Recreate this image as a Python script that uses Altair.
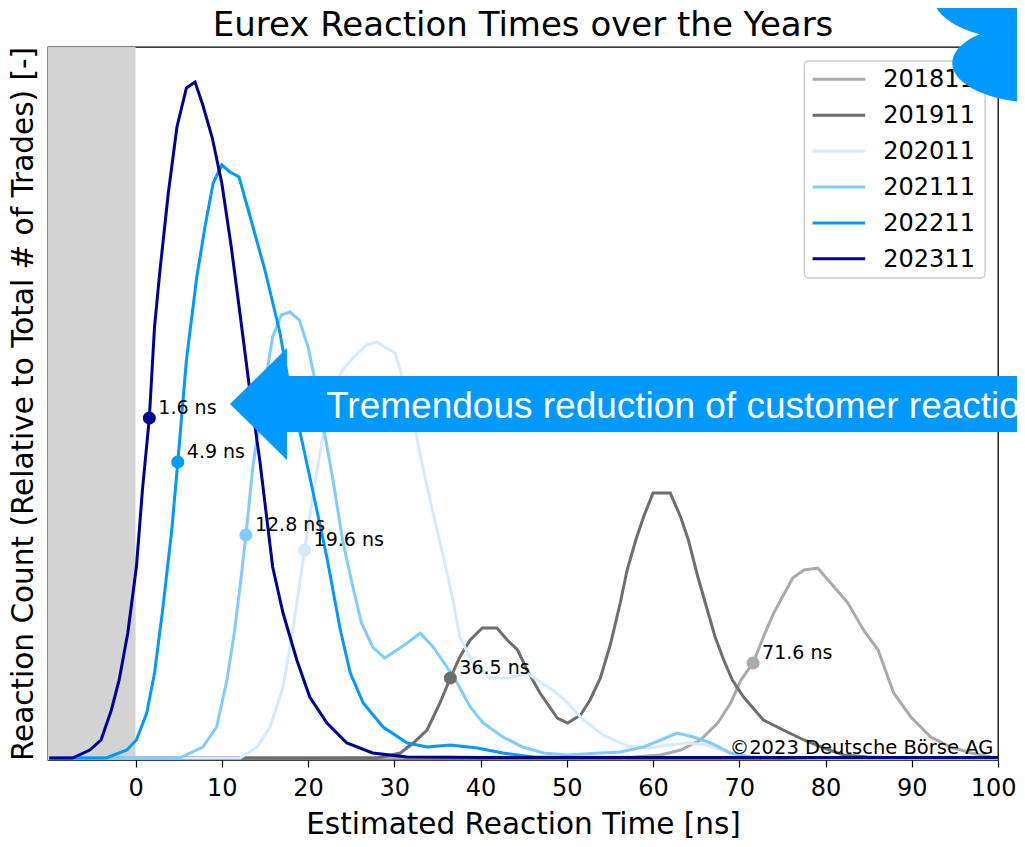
import altair as alt
import pandas as pd

# ---------------- data ----------------
years = ["201811", "201911", "202011", "202111", "202211", "202311"]
colors = ["#aaaaaa", "#6e6e6e", "#d6eaff", "#80ccff", "#0099ff", "#000099"]

x_201811 = [-10, 57.7, 60.9, 63.2, 65.5, 67.5, 69.0, 70.2, 71.6, 72.8, 74.0, 75.0, 76.2, 77.5,
            79.1, 81.0, 82.6, 84.4, 86.1, 87.9, 89.9, 92.2, 94.5, 96.9, 99.2, 100]
y_201811 = [0, 1, 3, 8, 18, 35, 55, 78, 95, 121, 145, 161, 180, 188,
            190, 171, 155, 128, 108, 65, 41, 21, 11, 5, 1, 0]

x_201911 = [-10, 28.0, 30.7, 32.2, 33.8, 35.3, 36.5, 37.6, 38.8, 40.2, 41.9, 43.1, 44.3, 45.4,
            46.9, 48.9, 50.1, 51.6, 52.7, 53.9, 55.1, 56.2, 57.0, 58.0, 58.9, 60.0, 61.1, 62.0,
            63.2, 64.1, 65.2, 66.3, 67.2, 68.2, 69.2, 70.5, 72.8, 75.1, 77.5, 79.8, 82.1, 84.9,
            90, 100]
y_201911 = [0, 0, 5, 15, 28, 55, 80, 101, 118, 130, 130, 118, 108, 88,
            65, 40, 35, 43, 58, 80, 115, 155, 188, 218, 241, 265, 265, 265,
            241, 218, 181, 148, 121, 98, 78, 61, 38, 28, 18, 10, 3, 1,
            0, 0]

x_202011 = [-10, 12.1, 14.1, 15.6, 17.1, 18.2, 19.6, 20.6, 21.7, 22.9, 24.0, 25.2, 26.8, 28.0,
            28.9, 30.1, 31.0, 32.2, 33.3, 34.5, 35.7, 36.8, 37.6, 39.1, 41.1, 43.4, 45.4, 46.9,
            48.4, 50.1, 51.9, 54.2, 57.0, 59.7, 61.7, 64.0, 66.3, 69.0, 71.3, 80, 90, 100]
y_202011 = [0, 0, 11, 31, 71, 125, 208, 265, 321, 368, 388, 400, 413, 416,
            411, 405, 378, 338, 291, 245, 201, 158, 121, 95, 80, 80, 85, 76,
            68, 55, 38, 23, 12, 10, 13, 15, 13, 5, 1, 0, 0, 0]

x_202111 = [-10, 5.1, 7.8, 9.4, 10.6, 11.5, 12.3, 12.8, 13.6, 14.6, 15.4, 15.9, 16.9, 17.9,
            19.0, 20.0, 20.8, 21.7, 22.9, 24.0, 25.2, 26.2, 27.5, 28.9, 30.3, 31.5, 33.0, 34.5,
            36.1, 37.3, 38.8, 40.3, 42.6, 44.9, 47.3, 50.1, 53.9, 56.2, 58.9, 60.9, 62.8, 64.7,
            66.7, 69.0, 71.3, 80, 90, 100]
y_202111 = [0, 0, 11, 31, 78, 128, 185, 223, 291, 351, 395, 421, 443, 446,
            438, 411, 378, 335, 278, 218, 171, 135, 111, 100, 108, 115, 125, 111,
            91, 75, 51, 35, 21, 11, 5, 3, 5, 6, 11, 18, 25, 21,
            15, 5, 1, 0, 0, 0]

x_202211 = [-10, -3.4, -1.0, 0.1, 1.3, 2.2, 3.1, 4.2, 4.9, 5.9, 7.1, 8.05, 9.0, 10.0,
            10.95, 12.0, 13.3, 15.0, 16.75, 18.3, 19.1, 20.6, 22.2, 23.7, 24.9, 26.4, 28.7, 31.5,
            33.8, 36.5, 39.6, 42.6, 46.1, 50, 60, 70, 80, 90, 100]
y_202211 = [0, 0, 8, 18, 45, 85, 145, 228, 296, 398, 481, 531, 575, 593,
            586, 581, 541, 488, 425, 348, 325, 265, 200, 130, 85, 55, 31, 15,
            11, 13, 10, 5, 1, 0.5, 0.5, 0.5, 0.5, 0.5, 0.5]

x_202311 = [-10, -7.3, -5.3, -4.0, -2.8, -1.9, -0.9, 0.1, 0.8, 1.6, 2.2, 2.8, 3.8, 4.8,
            5.9, 6.9, 7.8, 8.9, 10.0, 11.1, 12.1, 13.2, 14.4, 15.9, 17.1, 18.7, 20.2, 22.2,
            24.5, 27.5, 31.5, 40, 50, 60, 70, 80, 90, 100]
y_202311 = [0, 0, 8, 18, 48, 78, 125, 191, 268, 340, 431, 485, 565, 631,
            670, 676, 653, 620, 575, 511, 445, 371, 298, 191, 145, 98, 61, 35,
            15, 5, 1, 0.5, 0.5, 0.5, 0.5, 0.5, 0.5, 0.5]

marker_x = [71.6, 36.5, 19.6, 12.8, 4.9, 1.6]
marker_y = [95, 80, 208, 223, 296, 340]
marker_labels = ["71.6 ns", "36.5 ns", "19.6 ns", "12.8 ns", "4.9 ns", "1.6 ns"]

x_ticks = [0, 10, 20, 30, 40, 50, 60, 70, 80, 90, 100]

title_text = "Eurex Reaction Times over the Years"
x_title = "Estimated Reaction Time [ns]"
y_title = "Reaction Count (Relative to Total # of Trades) [-]"
arrow_text = "Tremendous reduction of customer reaction"
copyright_text = "\u00a92023 Deutsche B\u00f6rse AG"

# ---------------- scales / axes ----------------
X_MIN, X_MAX = -10.15, 100
Y_MIN, Y_MAX = -2, 711
FONT = "DejaVu Sans"

xscale = alt.Scale(domain=[X_MIN, X_MAX], nice=False, zero=False)
yscale = alt.Scale(domain=[Y_MIN, Y_MAX], nice=False, zero=False)
xaxis = alt.Axis(title=x_title, values=x_ticks, labelFontSize=24, labelFont=FONT,
                 labelColor="black", tickColor="black", tickSize=7, tickWidth=1.2,
                 domain=False, grid=False, labelPadding=9,
                 labelFlush=True, labelFlushOffset=18,
                 titleFontSize=29.5, titleFont=FONT, titleFontWeight="normal",
                 titleColor="black", titlePadding=10)
yaxis = alt.Axis(title=y_title, labels=False, ticks=False, domain=False, grid=False,
                 titleFontSize=29.5, titleFont=FONT, titleFontWeight="normal",
                 titleColor="black", titlePadding=10)
color_scale = alt.Scale(domain=years, range=colors)


def X(field, **kw):
    return alt.X(field, type="quantitative", scale=xscale, axis=xaxis, **kw)


def Y(field, **kw):
    return alt.Y(field, type="quantitative", scale=yscale, axis=yaxis, **kw)


series_x = [x_201811, x_201911, x_202011, x_202111, x_202211, x_202311]
series_y = [y_201811, y_201911, y_202011, y_202111, y_202211, y_202311]
rows = []
for yr, xs, ys in zip(years, series_x, series_y):
    for i, (a, b) in enumerate(zip(xs, ys)):
        rows.append({"year": yr, "t": a, "v": b, "i": i})
lines_df = pd.DataFrame(rows)

markers_df = pd.DataFrame({"year": years, "t": marker_x, "v": marker_y, "label": marker_labels})

# ---------------- layers ----------------
shade = alt.Chart(pd.DataFrame({"a": [X_MIN], "b": [0], "c": [Y_MIN], "d": [Y_MAX]})).mark_rect(
    color="#d3d3d3").encode(x=X("a"), x2="b", y=Y("c"), y2="d")

lines = alt.Chart(lines_df).mark_line(strokeWidth=3, clip=True).encode(
    x=X("t"), y=Y("v"),
    color=alt.Color("year:N", scale=color_scale, legend=None),
    order="i:Q", detail="year:N")

dots = alt.Chart(markers_df).mark_circle(size=170, opacity=1).encode(
    x=X("t"), y=Y("v"), color=alt.Color("year:N", scale=color_scale, legend=None))

dot_text = alt.Chart(markers_df).mark_text(
    align="left", baseline="alphabetic", dx=9, dy=-4, fontSize=19, font=FONT, color="black"
).encode(x=X("t"), y=Y("v"), text="label:N")

copyright = alt.Chart(pd.DataFrame({"t": [99.45], "v": [4], "s": [copyright_text]})).mark_text(
    align="right", baseline="alphabetic", fontSize=19.5, font=FONT, color="black"
).encode(x=X("t"), y=Y("v"), text="s:N")

# chart title as a text mark (centred over the plot)
title = alt.Chart(pd.DataFrame({"t": [(X_MIN + X_MAX) / 2], "v": [722], "s": [title_text]})).mark_text(
    align="center", baseline="alphabetic", fontSize=34, font=FONT, color="black"
).encode(x=X("t"), y=Y("v"), text="s:N")

# legend (drawn manually so that the blue bubble can cover it)
leg_top_row, leg_step = 678.7, 35.9
legend_df = pd.DataFrame({"year": years})
legend_df["ly"] = [leg_top_row - k * leg_step for k in range(len(years))]
legend_df["lx0"] = 78.5
legend_df["lx1"] = 84.6
legend_df["tx"] = 86.7

legend_box = alt.Chart(pd.DataFrame({"a": [77.55], "b": [98.5], "c": [480], "d": [697]})).mark_rect(
    fill="white", fillOpacity=0.85, stroke="#cccccc", strokeWidth=1.5, cornerRadius=4
).encode(x=X("a"), x2="b", y=Y("c"), y2="d")
legend_lines = alt.Chart(legend_df).mark_rule(strokeWidth=3).encode(
    x=X("lx0"), x2="lx1", y=Y("ly"), color=alt.Color("year:N", scale=color_scale, legend=None))
legend_text = alt.Chart(legend_df).mark_text(
    align="left", baseline="middle", fontSize=24, font=FONT, color="black", dy=1
).encode(x=X("tx"), y=Y("ly"), text="year:N")

# arrow with text
arrow_path = "M0,0L57,-56L57,-28L830,-28L830,28L57,28L57,56Z"
arrow = alt.Chart(pd.DataFrame({"t": [10.95], "v": [354]})).mark_point(
    shape=arrow_path, size=4, filled=True, color="#0099ff", opacity=1, strokeWidth=0
).encode(x=X("t"), y=Y("v"))
arrow_label = alt.Chart(pd.DataFrame({"t": [22.1], "v": [340], "s": [arrow_text]})).mark_text(
    align="left", baseline="alphabetic", fontSize=37, font="Liberation Sans", color="white"
).encode(x=X("t"), y=Y("v"), text="s:N")

# blue bubble in the top right corner
cloud_df = pd.DataFrame({"t": [103.2, 104.9], "v": [761, 695],
                         "k": ["M-92,0A92,43 0 1,0 92,0A92,43 0 1,0 -92,0Z",
                               "M-88,0A88,40 0 1,0 88,0A88,40 0 1,0 -88,0Z"]})
cloud = alt.Chart(cloud_df).mark_point(
    filled=True, color="#0099ff", opacity=1, strokeWidth=0, size=4
).encode(x=X("t"), y=Y("v"), shape=alt.Shape("k:N", scale=None, legend=None))

chart = alt.layer(
    shade, lines, dots, dot_text, copyright, legend_box, legend_lines, legend_text,
    arrow, arrow_label, title, cloud
).properties(
    width=950, height=713,
    padding={"left": 40, "top": 39, "right": 19, "bottom": 79},
    autosize=alt.AutoSizeParams(type="none"),
    background="white",
).configure_view(stroke="black", strokeWidth=1.3)

chart.save("out.html", embed_options={"renderer": "svg", "actions": False})
